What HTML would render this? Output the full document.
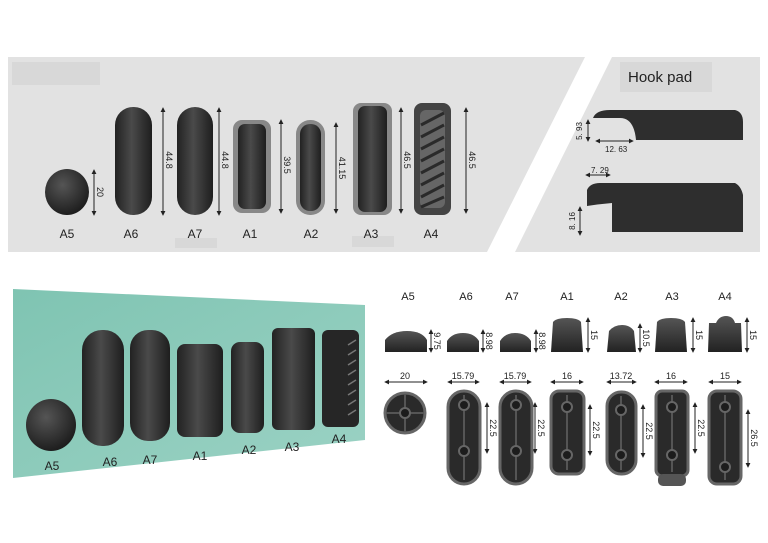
<!DOCTYPE html>
<html><head><meta charset="utf-8"><style>
html,body{margin:0;padding:0;background:#fff;width:768px;height:543px;overflow:hidden}
svg{display:block}
text{font-family:"Liberation Sans",sans-serif;fill:#222}
</style></head><body>
<svg width="768" height="543" viewBox="0 0 768 543" xmlns="http://www.w3.org/2000/svg">
<defs>
<linearGradient id="pill" x1="0" x2="1"><stop offset="0" stop-color="#222"/><stop offset=".45" stop-color="#4a4a4a"/><stop offset="1" stop-color="#1e1e1e"/></linearGradient>
<radialGradient id="ball" cx=".4" cy=".35" r=".7"><stop offset="0" stop-color="#555"/><stop offset="1" stop-color="#1a1a1a"/></radialGradient>
<linearGradient id="dome" x1="0" y1="0" x2="0" y2="1"><stop offset="0" stop-color="#555"/><stop offset="1" stop-color="#222"/></linearGradient>
<linearGradient id="teal" x1="0" y1="0" x2="1" y2="1"><stop offset="0" stop-color="#7fc4b2"/><stop offset="1" stop-color="#9bd2c4"/></linearGradient>
<marker id="a" viewBox="0 0 6 6" refX="5" refY="3" markerWidth="5" markerHeight="5" orient="auto-start-reverse"><path d="M0,0L6,3L0,6z" fill="#222"/></marker>
</defs>
<!-- top panels -->
<polygon points="8,57 585,57 487,252 8,252" fill="#e2e2e2"/>
<polygon points="612,57 760,57 760,252 515,252" fill="#e2e2e2"/>
<rect x="12" y="62" width="88" height="23" fill="#d8d8d8"/>
<rect x="620" y="62" width="92" height="30" fill="#d8d8d8"/>
<text x="628" y="82" font-size="15">Hook  pad</text>
<rect x="175" y="238" width="42" height="10" fill="#d8d8d8"/>
<rect x="352" y="236" width="42" height="11" fill="#d8d8d8"/>
<!-- top objects -->
<ellipse cx="67" cy="192" rx="22" ry="23" fill="url(#ball)"/>
<rect x="115" y="107" width="37" height="108" rx="18" fill="url(#pill)"/>
<rect x="177" y="107" width="36" height="108" rx="18" fill="url(#pill)"/>
<rect x="233" y="120" width="38" height="93" rx="9" fill="#888"/><rect x="238" y="124" width="28" height="85" rx="7" fill="url(#pill)"/>
<rect x="296" y="120" width="29" height="95" rx="14" fill="#888"/><rect x="300" y="124" width="21" height="87" rx="10" fill="url(#pill)"/>
<rect x="353" y="103" width="39" height="112" rx="8" fill="#888"/><rect x="358" y="106" width="29" height="106" rx="7" fill="url(#pill)"/>
<rect x="414" y="103" width="37" height="112" rx="8" fill="#444"/><rect x="420" y="110" width="25" height="98" rx="6" fill="#666"/>
<g stroke="#2a2a2a" stroke-width="3"><line x1="421" y1="125" x2="444" y2="113"/><line x1="421" y1="137" x2="444" y2="125"/><line x1="421" y1="149" x2="444" y2="137"/><line x1="421" y1="161" x2="444" y2="149"/><line x1="421" y1="173" x2="444" y2="161"/><line x1="421" y1="185" x2="444" y2="173"/><line x1="421" y1="197" x2="444" y2="185"/><line x1="421" y1="207" x2="444" y2="197"/></g>
<g stroke="#222" stroke-width="1" marker-start="url(#a)" marker-end="url(#a)">
<line x1="94" y1="170" x2="94" y2="215"/><line x1="163" y1="108" x2="163" y2="215"/><line x1="219" y1="108" x2="219" y2="215"/><line x1="281" y1="120" x2="281" y2="213"/><line x1="336" y1="123" x2="336" y2="213"/><line x1="401" y1="108" x2="401" y2="213"/><line x1="466" y1="108" x2="466" y2="213"/>
</g>
<g font-size="9">
<text transform="translate(97,192) rotate(90)" text-anchor="middle">20</text>
<text transform="translate(166,160) rotate(90)" text-anchor="middle">44.8</text>
<text transform="translate(222,160) rotate(90)" text-anchor="middle">44.8</text>
<text transform="translate(284,165) rotate(90)" text-anchor="middle">39.5</text>
<text transform="translate(339,168) rotate(90)" text-anchor="middle">41.15</text>
<text transform="translate(404,160) rotate(90)" text-anchor="middle">46.5</text>
<text transform="translate(469,160) rotate(90)" text-anchor="middle">46.5</text>
</g>
<g font-size="12" text-anchor="middle">
<text x="67" y="238">A5</text><text x="131" y="238">A6</text><text x="195" y="238">A7</text><text x="250" y="238">A1</text><text x="311" y="238">A2</text><text x="371" y="238">A3</text><text x="431" y="238">A4</text>
</g>
<!-- hook pads -->
<path d="M593,118 Q596,110 610,110 L735,110 Q743,112 743,122 L743,140 L636,140 Q634,118 620,118 Z" fill="#2e2e2e"/>
<path d="M587,190 Q590,183 600,183 L735,183 Q741,186 743,195 L743,232 L612,232 L612,203 Q600,204 587,206 Z" fill="#2e2e2e"/>
<g stroke="#222" stroke-width="1" marker-start="url(#a)" marker-end="url(#a)">
<line x1="588" y1="120" x2="588" y2="141"/><line x1="596" y1="141" x2="633" y2="141"/><line x1="586" y1="175" x2="610" y2="175"/><line x1="580" y1="207" x2="580" y2="235"/>
</g>
<g font-size="8"><text x="605" y="152">12. 63</text><text x="591" y="173">7. 29</text>
<text transform="translate(582,131) rotate(-90)" text-anchor="middle">5. 93</text>
<text transform="translate(575,221) rotate(-90)" text-anchor="middle">8. 16</text></g>
<!-- teal panel -->
<polygon points="13,289 365,305 365,440 13,478" fill="url(#teal)"/>
<ellipse cx="51" cy="425" rx="25" ry="26" fill="url(#ball)"/>
<rect x="82" y="330" width="42" height="116" rx="20" fill="url(#pill)"/>
<rect x="130" y="330" width="40" height="111" rx="18" fill="url(#pill)"/>
<rect x="177" y="344" width="46" height="93" rx="8" fill="url(#pill)"/>
<rect x="231" y="342" width="33" height="91" rx="9" fill="url(#pill)"/>
<rect x="272" y="328" width="43" height="102" rx="6" fill="url(#pill)"/>
<rect x="322" y="330" width="37" height="97" rx="6" fill="#262626"/>
<g stroke="#777" stroke-width="1.5"><line x1="348" y1="345" x2="356" y2="340"/><line x1="348" y1="355" x2="356" y2="350"/><line x1="348" y1="365" x2="356" y2="360"/><line x1="348" y1="375" x2="356" y2="370"/><line x1="348" y1="385" x2="356" y2="380"/><line x1="348" y1="395" x2="356" y2="390"/><line x1="348" y1="405" x2="356" y2="400"/><line x1="348" y1="415" x2="356" y2="410"/></g>
<g font-size="12" text-anchor="middle">
<text x="52" y="470">A5</text><text x="110" y="466">A6</text><text x="150" y="464">A7</text><text x="200" y="460">A1</text><text x="249" y="454">A2</text><text x="292" y="451">A3</text><text x="339" y="443">A4</text>
</g>
<!-- right bottom drawings -->
<g font-size="11" text-anchor="middle">
<text x="408" y="300">A5</text><text x="466" y="300">A6</text><text x="512" y="300">A7</text><text x="567" y="300">A1</text><text x="621" y="300">A2</text><text x="672" y="300">A3</text><text x="725" y="300">A4</text>
</g>
<path d="M385,352 L385,340 Q392,331 407,331 Q422,331 427,340 L427,352 Z" fill="url(#dome)"/>
<path d="M447,352 L447,341 Q452,333 463,333 Q474,333 479,341 L479,352 Z" fill="url(#dome)"/>
<path d="M500,352 L500,341 Q505,333 515,333 Q526,333 531,341 L531,352 Z" fill="url(#dome)"/>
<path d="M551,352 L553,322 Q556,318 567,318 Q578,318 581,322 L583,352 Z" fill="url(#dome)"/>
<path d="M607,352 L609,331 Q614,325 622,325 Q630,325 634,331 L636,352 Z" fill="url(#dome)"/>
<path d="M655,352 L657,322 Q660,318 671,318 Q682,318 685,322 L687,352 Z" fill="url(#dome)"/>
<path d="M708,352 L709,323 L716,323 Q719,316 726,316 Q733,316 735,323 L741,323 L742,352 Z" fill="url(#dome)"/>
<g stroke="#222" stroke-width="1" marker-start="url(#a)" marker-end="url(#a)">
<line x1="431" y1="330" x2="431" y2="352"/><line x1="483" y1="330" x2="483" y2="352"/><line x1="536" y1="330" x2="536" y2="352"/><line x1="588" y1="318" x2="588" y2="352"/><line x1="640" y1="324" x2="640" y2="352"/><line x1="693" y1="318" x2="693" y2="352"/><line x1="747" y1="318" x2="747" y2="352"/>
<line x1="385" y1="382" x2="427" y2="382"/><line x1="448" y1="382" x2="479" y2="382"/><line x1="500" y1="382" x2="531" y2="382"/><line x1="551" y1="382" x2="583" y2="382"/><line x1="607" y1="382" x2="636" y2="382"/><line x1="655" y1="382" x2="687" y2="382"/><line x1="709" y1="382" x2="741" y2="382"/>
<line x1="487" y1="403" x2="487" y2="453"/><line x1="535" y1="403" x2="535" y2="453"/><line x1="590" y1="405" x2="590" y2="455"/><line x1="643" y1="405" x2="643" y2="457"/><line x1="695" y1="403" x2="695" y2="453"/><line x1="748" y1="410" x2="748" y2="467"/>
</g>
<g font-size="9">
<text transform="translate(434,341) rotate(90)" text-anchor="middle">9.75</text>
<text transform="translate(486,341) rotate(90)" text-anchor="middle">8.98</text>
<text transform="translate(539,341) rotate(90)" text-anchor="middle">8.98</text>
<text transform="translate(591,335) rotate(90)" text-anchor="middle">15</text>
<text transform="translate(643,338) rotate(90)" text-anchor="middle">10.5</text>
<text transform="translate(696,335) rotate(90)" text-anchor="middle">15</text>
<text transform="translate(750,335) rotate(90)" text-anchor="middle">15</text>
<text transform="translate(490,428) rotate(90)" text-anchor="middle">22.5</text>
<text transform="translate(538,428) rotate(90)" text-anchor="middle">22.5</text>
<text transform="translate(593,430) rotate(90)" text-anchor="middle">22.5</text>
<text transform="translate(646,431) rotate(90)" text-anchor="middle">22.5</text>
<text transform="translate(698,428) rotate(90)" text-anchor="middle">22.5</text>
<text transform="translate(751,438) rotate(90)" text-anchor="middle">26.5</text>
</g>
<g font-size="9" text-anchor="middle">
<text x="405" y="379">20</text><text x="463" y="379">15.79</text><text x="515" y="379">15.79</text><text x="567" y="379">16</text><text x="621" y="379">13.72</text><text x="671" y="379">16</text><text x="725" y="379">15</text>
</g>
<!-- bottom views -->
<g fill="#2a2a2a" stroke="#666" stroke-width="3">
<circle cx="405" cy="413" r="20"/>
<rect x="448" y="391" width="32" height="93" rx="16"/>
<rect x="500" y="391" width="32" height="93" rx="16"/>
<rect x="551" y="391" width="33" height="83" rx="8"/>
<rect x="607" y="392" width="29" height="82" rx="14"/>
<rect x="656" y="391" width="32" height="85" rx="6"/>
<rect x="709" y="391" width="32" height="93" rx="8"/>
</g>
<rect x="658" y="474" width="28" height="12" rx="5" fill="#555"/>
<g stroke="#555" stroke-width="2" fill="none">
<line x1="386" y1="413" x2="424" y2="413"/><line x1="405" y1="394" x2="405" y2="432"/>
<line x1="464" y1="395" x2="464" y2="480"/><line x1="516" y1="395" x2="516" y2="480"/><line x1="567" y1="395" x2="567" y2="470"/><line x1="621" y1="396" x2="621" y2="470"/><line x1="672" y1="395" x2="672" y2="472"/><line x1="725" y1="395" x2="725" y2="480"/>
</g>
<g fill="#1c1c1c" stroke="#666" stroke-width="2">
<circle cx="405" cy="413" r="5"/>
<circle cx="464" cy="405" r="5"/><circle cx="464" cy="451" r="5"/>
<circle cx="516" cy="405" r="5"/><circle cx="516" cy="451" r="5"/>
<circle cx="567" cy="407" r="5"/><circle cx="567" cy="455" r="5"/>
<circle cx="621" cy="410" r="5"/><circle cx="621" cy="455" r="5"/>
<circle cx="672" cy="407" r="5"/><circle cx="672" cy="455" r="5"/>
<circle cx="725" cy="407" r="5"/><circle cx="725" cy="467" r="5"/>
</g>
</svg>
</body></html>
